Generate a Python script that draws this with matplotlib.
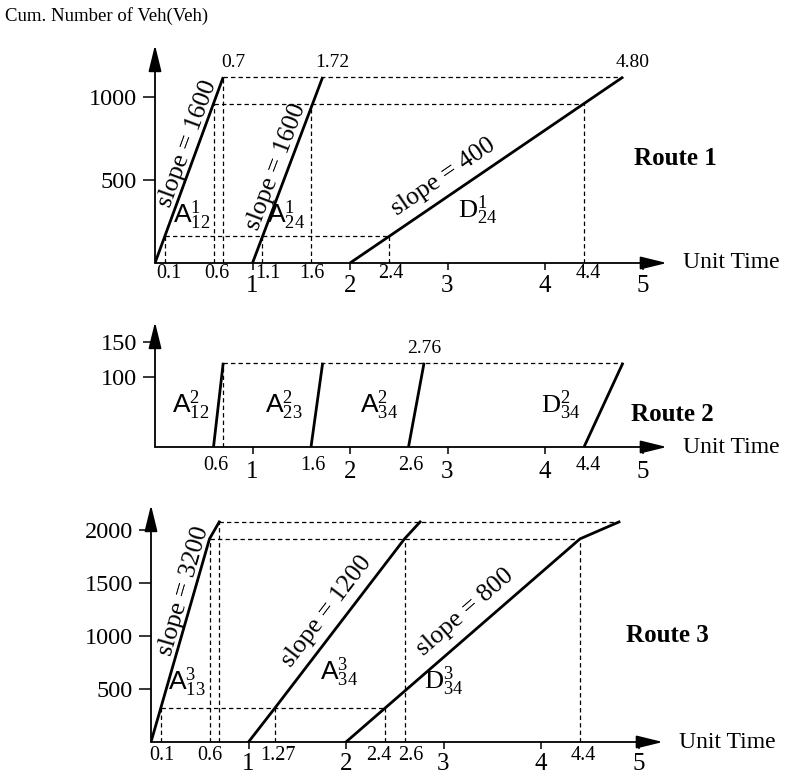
import numpy as np
import matplotlib
matplotlib.use("Agg")
import matplotlib.pyplot as plt
from matplotlib.transforms import offset_copy

plt.rcParams['font.family'] = ['Liberation Serif', 'DejaVu Serif']
plt.rcParams['mathtext.fontset'] = 'custom'
plt.rcParams['mathtext.rm'] = 'Liberation Serif'
plt.rcParams['mathtext.it'] = 'Liberation Serif:italic'
plt.rcParams['mathtext.sf'] = 'Liberation Sans'

# ── data: cumulative vehicles vs unit time ───────────────
# Route 1
r1_A12_t = [0.0, 0.7];  r1_A12_n = [0, 1120]
r1_A24_t = [1.0, 1.72]; r1_A24_n = [0, 1120]
r1_D24_t = [2.0, 4.8];  r1_D24_n = [0, 1120]
r1_hdash = [(1120, 0.7, 4.8), (960, 0.6, 4.4), (160, 0.1, 2.4)]
r1_vdash = [(0.1, 160), (0.6, 960), (0.7, 1120), (1.1, 160), (1.6, 960), (2.4, 160), (4.4, 960)]
r1_yticks = [500, 1000]
r1_dec = [0.1, 0.6, 1.1, 1.6, 2.4, 4.4]
r1_dec_lbl = ["0.1", "0.6", "1.1", "1.6", "2.4", "4.4"]

# Route 2
r2_A12_t = [0.6, 0.7];  r2_A12_n = [0, 120]
r2_A23_t = [1.6, 1.72]; r2_A23_n = [0, 120]
r2_A34_t = [2.6, 2.76]; r2_A34_n = [0, 120]
r2_D34_t = [4.4, 4.8];  r2_D34_n = [0, 120]
r2_hdash = [(120, 0.7, 4.8)]
r2_vdash = [(0.7, 120)]
r2_yticks = [100, 150]
r2_dec = [0.6, 1.6, 2.6, 4.4]
r2_dec_lbl = ["0.6", "1.6", "2.6", "4.4"]

# Route 3
r3_A13_t = [0.0, 0.1, 0.6, 0.7];   r3_A13_n = [0, 320, 1920, 2080]
r3_A34_t = [1.0, 1.27, 2.6, 2.76]; r3_A34_n = [0, 320, 1920, 2080]
r3_D34_t = [2.0, 2.4, 4.4, 4.8];   r3_D34_n = [0, 320, 1920, 2080]
r3_hdash = [(2080, 0.7, 4.8), (1920, 0.6, 4.4), (320, 0.1, 2.4)]
r3_vdash = [(0.1, 320), (0.6, 1920), (0.7, 2080), (1.27, 320), (2.4, 320), (2.6, 1920), (4.4, 1920)]
r3_yticks = [500, 1000, 1500, 2000]
r3_dec = [0.1, 0.6, 1.27, 2.4, 2.6, 4.4]
r3_dec_lbl = ["0.1", "0.6", "1.27", "2.4", "2.6", "4.4"]

int_ticks = [1, 2, 3, 4, 5]

W, H = 789, 779
fig = plt.figure(figsize=(W / 100, H / 100), dpi=100)

XMAX = 5.25
UNIT = 97.5   # px per time unit


def make_ax(left, base, top, ymax):
    return fig.add_axes([left / W, 1 - base / H, XMAX * UNIT / W, (base - top) / H]), ymax


def decorate(ax, ymax, yticks, dec, dec_lbl, dec_drop, int_pad, nudges):
    ax.set_xlim(0, XMAX)
    ax.set_ylim(0, ymax)
    for s in ax.spines.values():
        s.set_visible(False)
    ax.patch.set_visible(False)
    arr = dict(arrowstyle='-|>,head_length=0.9,head_width=0.22', color='black',
               lw=1.3, shrinkA=0, shrinkB=0, mutation_scale=18)
    ax.annotate('', xy=(XMAX, 0), xytext=(0, 0), arrowprops=arr, annotation_clip=False)
    ax.annotate('', xy=(0, ymax), xytext=(0, 0), arrowprops=arr, annotation_clip=False)
    ax.set_yticks(yticks)
    ax.set_yticklabels([str(v) for v in yticks], fontsize=17.5)
    ax.tick_params(axis='y', direction='out', length=9, width=1.1, pad=4)
    ax.set_xticks(int_ticks)
    ax.set_xticklabels([str(v) for v in int_ticks], fontsize=18)
    ax.tick_params(axis='x', which='major', direction='out', length=5, width=1.1, pad=int_pad)
    # decimal labels under the axis (no tick marks)
    for x, s, dx in zip(dec, dec_lbl, nudges):
        tr = offset_copy(ax.get_xaxis_transform(), fig=fig, x=dx, y=-dec_drop, units='dots')
        ax.text(x, 0, s, fontsize=14.5, ha='center', va='top', transform=tr)
    ax.text(XMAX + 0.17, 0, "Unit Time", fontsize=17, va='center', ha='left')


def dashes(ax, hd, vd):
    for y, x0, x1 in hd:
        ax.plot([x0, x1], [y, y], color='black', lw=0.9, ls=(0, (3.5, 2.5)))
    for x, y in vd:
        ax.plot([x, x], [0, y], color='black', lw=0.9, ls=(0, (3.5, 2.5)))


def angle(ax, x0, y0, x1, y1):
    p0 = ax.transData.transform((x0, y0))
    p1 = ax.transData.transform((x1, y1))
    return np.degrees(np.arctan2(p1[1] - p0[1], p1[0] - p0[0]))


def slope_label(ax, txt, x, y, seg):
    ax.text(x, y, txt, fontsize=18.5, rotation=angle(ax, *seg),
            rotation_mode='anchor', ha='center', va='center')


LW = 2.0

# ── Route 1 ──────────────────────────────────────────────
ax1, y1max = make_ax(155, 263, 45, 1313)
decorate(ax1, y1max, r1_yticks, r1_dec, r1_dec_lbl, dec_drop=1, int_pad=4,
         nudges=[4, 3, 6, 1, 2, 4])
dashes(ax1, r1_hdash, r1_vdash)
for t, n in [(r1_A12_t, r1_A12_n), (r1_A24_t, r1_A24_n), (r1_D24_t, r1_D24_n)]:
    ax1.plot(t, n, color='black', lw=LW, solid_capstyle='butt')
slope_label(ax1, "slope = 1600", 0.33, 720, (0, 0, 0.7, 1120))
slope_label(ax1, "slope = 1600", 1.24, 580, (1.0, 0, 1.72, 1120))
slope_label(ax1, "slope = 400", 2.96, 515, (2.0, 0, 4.8, 1120))
ax1.text(0.38, 290, r"$\mathsf{A}^{1}_{12}$", fontsize=19, ha='center', va='center')
ax1.text(1.34, 290, r"$\mathsf{A}^{1}_{24}$", fontsize=19, ha='center', va='center')
ax1.text(3.31, 320, r"$\mathrm{D}^{1}_{24}$", fontsize=19, ha='center', va='center')
for x, s in [(0.7, "0.7"), (1.72, "1.72"), (4.8, "4.80")]:
    ax1.text(x + 0.1, 1120 + 35, s, fontsize=14, ha='center', va='bottom')
ax1.text(5.34, 632, "Route 1", fontsize=18, fontweight='bold', ha='center', va='center')
fig.text(5 / W, 1 - 16 / H, "Cum. Number of Veh(Veh)", fontsize=13.5, ha='left', va='center')

# ── Route 2 ──────────────────────────────────────────────
ax2, y2max = make_ax(155, 447, 322, 178)
decorate(ax2, y2max, r2_yticks, r2_dec, r2_dec_lbl, dec_drop=9, int_pad=5,
         nudges=[2, 2, 2, 4])
dashes(ax2, r2_hdash, r2_vdash)
for t, n in [(r2_A12_t, r2_A12_n), (r2_A23_t, r2_A23_n), (r2_A34_t, r2_A34_n), (r2_D34_t, r2_D34_n)]:
    ax2.plot(t, n, color='black', lw=LW, solid_capstyle='butt')
ax2.text(0.36, 60, r"$\mathsf{A}^{2}_{12}$", fontsize=19, ha='center', va='center')
ax2.text(1.32, 60, r"$\mathsf{A}^{2}_{23}$", fontsize=19, ha='center', va='center')
ax2.text(2.30, 60, r"$\mathsf{A}^{2}_{34}$", fontsize=19, ha='center', va='center')
ax2.text(4.16, 60, r"$\mathrm{D}^{2}_{34}$", fontsize=19, ha='center', va='center')
ax2.text(2.76, 120 + 8, "2.76", fontsize=14, ha='center', va='bottom')
ax2.text(5.31, 46, "Route 2", fontsize=18, fontweight='bold', ha='center', va='center')

# ── Route 3 ──────────────────────────────────────────────
ax3, y3max = make_ax(151, 742, 505, 2240)
decorate(ax3, y3max, r3_yticks, r3_dec, r3_dec_lbl, dec_drop=4, int_pad=3,
         nudges=[1, 0, 3, -6, 6, 3])
dashes(ax3, r3_hdash, r3_vdash)
for t, n in [(r3_A13_t, r3_A13_n), (r3_A34_t, r3_A34_n), (r3_D34_t, r3_D34_n)]:
    ax3.plot(t, n, color='black', lw=LW, solid_joinstyle='miter')
slope_label(ax3, "slope = 3200", 0.34, 1430, (0.1, 320, 0.6, 1920))
slope_label(ax3, "slope = 1200", 1.80, 1230, (1.27, 320, 2.6, 1920))
slope_label(ax3, "slope = 800", 3.22, 1230, (2.4, 320, 4.4, 1920))
ax3.text(0.37, 560, r"$\mathsf{A}^{3}_{13}$", fontsize=19, ha='center', va='center')
ax3.text(1.93, 660, r"$\mathsf{A}^{3}_{34}$", fontsize=19, ha='center', va='center')
ax3.text(3.00, 570, r"$\mathrm{D}^{3}_{34}$", fontsize=19, ha='center', va='center')
ax3.text(5.30, 1010, "Route 3", fontsize=18, fontweight='bold', ha='center', va='center')

fig.savefig("out.png", dpi=100)
